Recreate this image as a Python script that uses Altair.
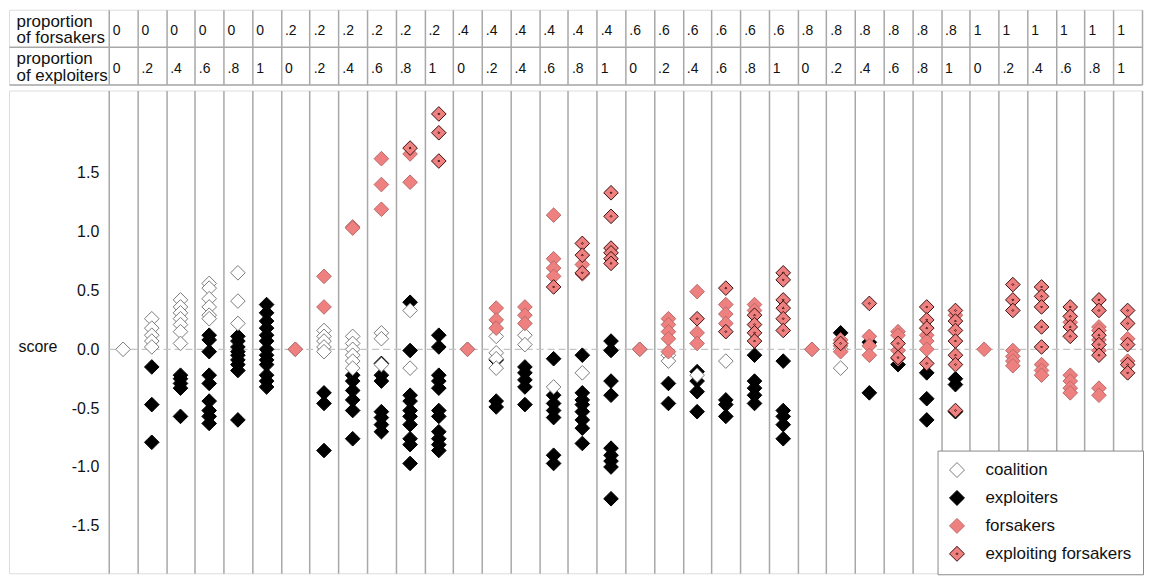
import altair as alt
import pandas as pd

FONT = "Liberation Sans"

# header labels (one per column)
forsaker_props = ["0", "0", "0", "0", "0", "0",
                  ".2", ".2", ".2", ".2", ".2", ".2",
                  ".4", ".4", ".4", ".4", ".4", ".4",
                  ".6", ".6", ".6", ".6", ".6", ".6",
                  ".8", ".8", ".8", ".8", ".8", ".8",
                  "1", "1", "1", "1", "1", "1"]
exploiter_props = ["0", ".2", ".4", ".6", ".8", "1",
                   "0", ".2", ".4", ".6", ".8", "1",
                   "0", ".2", ".4", ".6", ".8", "1",
                   "0", ".2", ".4", ".6", ".8", "1",
                   "0", ".2", ".4", ".6", ".8", "1",
                   "0", ".2", ".4", ".6", ".8", "1"]
row_names = ["forsakers", "exploiters"]
row_labels = [["proportion", "of forsakers"], ["proportion", "of exploiters"]]

# scores per column (36 columns)
coalition = [
    [0.0], [0.26, 0.18, 0.12, 0.07, 0.02], [0.42, 0.36, 0.31, 0.26, 0.21, 0.15, 0.05],
    [0.56, 0.52, 0.43, 0.36, 0.29, 0.26], [0.65, 0.41, 0.22], [],
    [0.0], [0.16, 0.11, 0.07, 0.02, -0.02], [0.11, 0.05, 0.0, -0.05, -0.10, -0.16],
    [0.14, 0.09, -0.13], [0.33, -0.16], [],
    [0.0], [0.11, -0.03, -0.08, -0.16], [0.12, 0.04],
    [-0.32], [-0.20], [],
    [0.0], [-0.05, -0.10], [-0.22],
    [-0.10], [], [],
    [0.0], [0.0, -0.16], [],
    [], [], [],
    [], [], [], [], [], [],
]
exploiters = [
    [], [-0.15, -0.47, -0.79], [-0.22, -0.25, -0.29, -0.33, -0.57],
    [0.12, 0.08, -0.02, -0.22, -0.29, -0.44, -0.52, -0.57, -0.63],
    [0.11, 0.07, 0.02, -0.02, -0.05, -0.09, -0.13, -0.18, -0.60],
    [0.38, 0.31, 0.24, 0.18, 0.12, 0.07, 0.0, -0.05, -0.09, -0.13, -0.22, -0.27, -0.32],
    [], [-0.37, -0.46, -0.86], [-0.22, -0.27, -0.35, -0.43, -0.52, -0.76],
    [-0.12, -0.22, -0.27, -0.53, -0.58, -0.64, -0.70],
    [0.40, -0.01, -0.39, -0.44, -0.52, -0.57, -0.64, -0.76, -0.81, -0.97],
    [0.12, 0.02, -0.22, -0.27, -0.33, -0.52, -0.57, -0.70, -0.76, -0.81, -0.86],
    [], [-0.09, -0.44, -0.49], [-0.15, -0.20, -0.26, -0.32, -0.47],
    [-0.08, -0.39, -0.46, -0.52, -0.58, -0.90, -0.97],
    [-0.05, -0.37, -0.43, -0.47, -0.53, -0.60, -0.67, -0.80],
    [0.07, -0.01, -0.27, -0.39, -0.84, -0.90, -0.95, -1.00, -1.27],
    [], [-0.29, -0.46], [-0.19, -0.27, -0.36, -0.53],
    [-0.43, -0.47, -0.57], [-0.05, -0.27, -0.33, -0.39, -0.46],
    [-0.10, -0.52, -0.57, -0.64, -0.76],
    [], [0.14], [0.06, -0.37],
    [-0.13], [-0.20, -0.42, -0.60], [-0.25, -0.30, -0.53],
    [], [], [], [], [], [],
]
forsakers = [
    [], [], [], [], [], [],
    [0.0], [0.62, 0.36], [1.04, 1.03], [1.62, 1.40, 1.19], [1.66, 1.42], [],
    [0.0], [0.35, 0.25, 0.18], [0.36, 0.29, 0.22], [1.14, 0.77, 0.69, 0.62], [0.72, 0.64], [],
    [0.0], [0.26, 0.21, 0.15, 0.09, -0.02], [0.49, 0.14, 0.05], [0.38, 0.30, 0.22], [0.38, 0.33], [],
    [0.0], [0.08, 0.03, -0.02], [0.11, 0.03, -0.05], [0.15, 0.12, -0.01, -0.08], [0.12, 0.07, 0.0], [0.29],
    [0.0], [-0.01, -0.06, -0.10, -0.14], [-0.13, -0.18, -0.22], [0.23, -0.22, -0.27, -0.33, -0.37],
    [0.19, 0.16, 0.08, -0.01, -0.33, -0.39], [0.09, -0.10],
]
exploiting_forsakers = [
    [], [], [], [], [], [],
    [], [], [], [], [1.71], [2.00, 1.84, 1.60],
    [], [], [], [0.53], [0.90, 0.80, 0.65], [1.33, 1.13, 0.86, 0.82, 0.77, 0.73],
    [], [], [0.26], [0.52, 0.15], [0.29, 0.21, 0.14, 0.07], [0.65, 0.59, 0.42, 0.35, 0.26, 0.16],
    [], [0.05], [0.39], [0.05, -0.07], [0.36, 0.25, 0.18, -0.12], [0.33, 0.24, 0.16, 0.07, -0.05, -0.13, -0.52],
    [], [0.55, 0.42, 0.33], [0.53, 0.45, 0.36, 0.19, 0.02], [0.36, 0.28, 0.19, 0.11],
    [0.42, 0.33, 0.12, 0.04, -0.05], [0.33, 0.22, 0.04, -0.13, -0.20],
]

groups = ["coalition", "exploiters", "forsakers", "exploiting forsakers"]
DIAMOND = "M0,-1L1,0L0,1L-1,0Z"
DOTTED = "M0,-1L1,0L0,1L-1,0Z M0,-0.13L0.13,0L0,0.13L-0.13,0Z"
shape_range = [DIAMOND, DIAMOND, DIAMOND, DOTTED]
fill_range = ["#ffffff", "#000000", "#ef8080", "#ef8080"]
stroke_range = ["#7a7a7a", "#000000", "#b86a6a", "#3a1010"]

# draw order: exploiters, coalition, forsakers, exploiting forsakers
rows = []
draw = 0
for name, series in [("exploiters", exploiters), ("coalition", coalition),
                     ("forsakers", forsakers), ("exploiting forsakers", exploiting_forsakers)]:
    for col, vals in enumerate(series):
        for v in vals:
            rows.append({"col": col + 0.5, "score": v, "group": name, "draw": draw})
            draw += 1
points_df = pd.DataFrame(rows)

header_df = pd.DataFrame({
    "col": list(range(36)) * 2,
    "row": [row_names[0]] * 36 + [row_names[1]] * 36,
    "label": forsaker_props + exploiter_props,
})

W = 1136
LEFT = 100           # px of the label column
NCOL = 36
COLW = (W - LEFT) / NCOL
GRID = "#a8a8a8"
xscale = alt.Scale(domain=[-LEFT / COLW, NCOL], nice=False, zero=False)
xaxis = alt.Axis(values=list(range(NCOL + 1)), grid=True, gridColor=GRID, gridWidth=1.5,
                 ticks=False, labels=False, domain=False, title=None)

label_expr = ("datum.value == '%s' ? ['%s', '%s'] : ['%s', '%s']"
              % (row_names[0], row_labels[0][0], row_labels[0][1], row_labels[1][0], row_labels[1][1]))

HEADER_H = 75
ROW_H = HEADER_H / 2
header = alt.Chart(header_df).mark_text(
    align="left", baseline="middle", dx=4, dy=3, fontSize=14, font=FONT, color="#111111"
).encode(
    x=alt.X("col:Q", scale=xscale, axis=xaxis),
    y=alt.Y("row:N", sort=row_names,
            scale=alt.Scale(type="band", paddingInner=0, paddingOuter=0),
            axis=alt.Axis(title=None, bandPosition=1, grid=True, gridColor=GRID, gridWidth=1.5,
                          ticks=False, domain=False,
                          labelPadding=-7, labelAlign="left", labelBaseline="top",
                          labelOffset=-(ROW_H / 2 - 4),
                          labelFontSize=17, labelLineHeight=16.5, labelFont=FONT, labelColor="#111111",
                          labelExpr=label_expr)),
    text="label:N",
).properties(width=W, height=HEADER_H)

ydomain = [-1.903, 2.199]
yscale = alt.Scale(domain=ydomain, nice=False, zero=False)

zero_line = alt.Chart(pd.DataFrame({"v": [0.0], "a": [0], "b": [NCOL]})).mark_rule(
    color="#c4c4c4", strokeDash=[7, 4], strokeWidth=1.2
).encode(x=alt.X("a:Q", scale=xscale, axis=xaxis), x2="b:Q", y=alt.Y("v:Q", scale=yscale))

legend = alt.Legend(title=None, orient="none", legendX=931, legendY=361,
                    fillColor="#ffffff", strokeColor="#8a8a8a", padding=11,
                    symbolSize=225, symbolStrokeWidth=1, labelFontSize=17, labelFont=FONT,
                    labelColor="#111111", labelOffset=20, rowPadding=9, labelLimit=300)

points = alt.Chart(points_df).mark_point(size=215, opacity=1, strokeWidth=1).encode(
    x=alt.X("col:Q", scale=xscale, axis=xaxis),
    y=alt.Y("score:Q", scale=yscale,
            axis=alt.Axis(values=[-1.5, -1.0, -0.5, 0.0, 0.5, 1.0, 1.5], format=".1f",
                          labelExpr="replace(datum.label, '\u2212', '-')",
                          offset=-LEFT,
                          title="score", titleAngle=0, titleX=-91, titleY=257,
                          titleAlign="left", titleBaseline="middle", titleFontWeight="normal",
                          titleFontSize=16, titleFont=FONT, titleColor="#111111",
                          labelFontSize=16, labelFont=FONT, labelColor="#111111",
                          labelPadding=10, ticks=False, domain=False, grid=False)),
    shape=alt.Shape("group:N", scale=alt.Scale(domain=groups, range=shape_range), legend=legend),
    fill=alt.Fill("group:N", scale=alt.Scale(domain=groups, range=fill_range), legend=legend),
    stroke=alt.Stroke("group:N", scale=alt.Scale(domain=groups, range=stroke_range), legend=legend),
    order=alt.Order("draw:Q"),
)

plot = alt.layer(zero_line, points).properties(width=W, height=484)

chart = alt.vconcat(header, plot, spacing=4).resolve_legend(
    shape="independent", fill="independent", stroke="independent"
).properties(padding=0).configure_view(
    stroke=GRID, strokeWidth=1.5
).configure(font=FONT)

chart.save("out.html", embed_options={"renderer": "svg", "actions": False})
